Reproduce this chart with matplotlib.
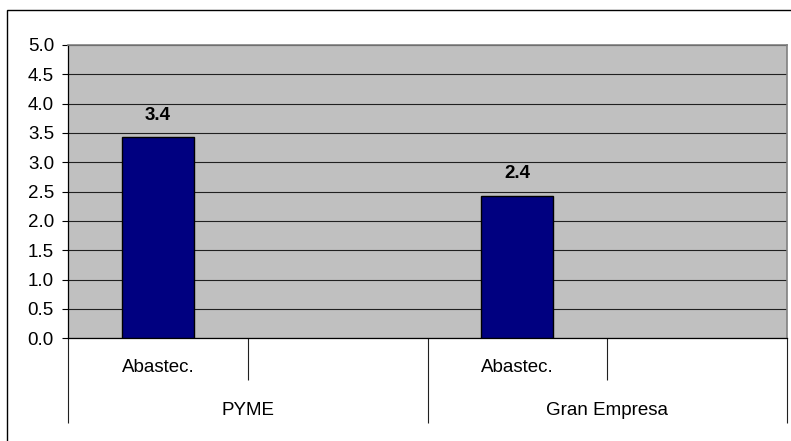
import matplotlib
matplotlib.use("Agg")
import matplotlib.pyplot as plt
from matplotlib.patches import Rectangle
from matplotlib.transforms import offset_copy

plt.rcParams['font.family'] = ['Liberation Sans', 'DejaVu Sans']

# Data
sub_labels = ["Abastec.", "", "Abastec.", ""]
group_labels = ["PYME", "Gran Empresa"]
values = [3.43, None, 2.43, None]
y_ticks = [0.0, 0.5, 1.0, 1.5, 2.0, 2.5, 3.0, 3.5, 4.0, 4.5, 5.0]

W, H = 791, 441
PX = 0.72  # points per pixel at dpi 100
FS = 13.5
fig = plt.figure(figsize=(W / 100, H / 100), dpi=100)
fig.patch.set_facecolor('white')

# outer chart border (right/bottom clipped in reference)
fig.patches.append(Rectangle((7 / W, -0.1), 1.1, (H - 10) / H + 0.1,
                             transform=fig.transFigure, fill=False,
                             edgecolor='black', linewidth=1.0))

left, right, top, bottom = 68, 787, 45, 338.3
ax = fig.add_axes([left / W, (H - bottom) / H, (right - left) / W, (bottom - top) / H])
ax.set_facecolor('#C0C0C0')

n = len(sub_labels)
xs = [i + 0.5 for i in range(n)]
bx = [x for x, v in zip(xs, values) if v is not None]
bv = [v for v in values if v is not None]
ax.bar(bx, bv, width=0.4, color='#000080', edgecolor='black', linewidth=1.0, zorder=3)
for x, v in zip(bx, bv):
    ax.annotate(f"{v:.1f}", (x, v), xytext=(0, 17.5 * PX), textcoords='offset points',
                ha='center', va='baseline', fontsize=FS, fontweight='bold', color='black')

ax.set_xlim(0, n)
ax.set_ylim(0, 5)
ax.set_yticks(y_ticks)
ax.set_yticklabels([f"{t:.1f}" for t in y_ticks], fontsize=FS)
ax.yaxis.grid(True, color='#202020', linewidth=0.8)
ax.set_axisbelow(True)
ax.tick_params(axis='y', direction='out', length=6 * PX, width=0.8, pad=8 * PX, color='black')

# category axis: major ticks at group boundaries (long), minor at sub-category boundaries (short)
ax.set_xticks([0, 2, 4])
ax.set_xticklabels([])
ax.set_xticks([1, 3], minor=True)
ax.tick_params(axis='x', which='major', direction='out', length=85 * PX, width=0.8, color='#202020')
ax.tick_params(axis='x', which='minor', direction='out', length=42 * PX, width=0.8, color='#202020')

for sp in ['left', 'bottom']:
    ax.spines[sp].set_color('black')
    ax.spines[sp].set_linewidth(0.9)
for sp in ['top', 'right']:
    ax.spines[sp].set_color('#808080')
    ax.spines[sp].set_linewidth(1.2)

tr = ax.get_xaxis_transform()
for x, lab in zip(xs, sub_labels):
    if lab:
        ax.text(x, 0, lab, transform=offset_copy(tr, fig=fig, x=0, y=-34 * PX, units='points'),
                ha='center', va='baseline', fontsize=FS)
for g, lab in enumerate(group_labels):
    ax.text(2 * g + 1, 0, lab, transform=offset_copy(tr, fig=fig, x=0, y=-76.7 * PX, units='points'),
            ha='center', va='baseline', fontsize=FS)

fig.savefig('out.png', dpi=100)
